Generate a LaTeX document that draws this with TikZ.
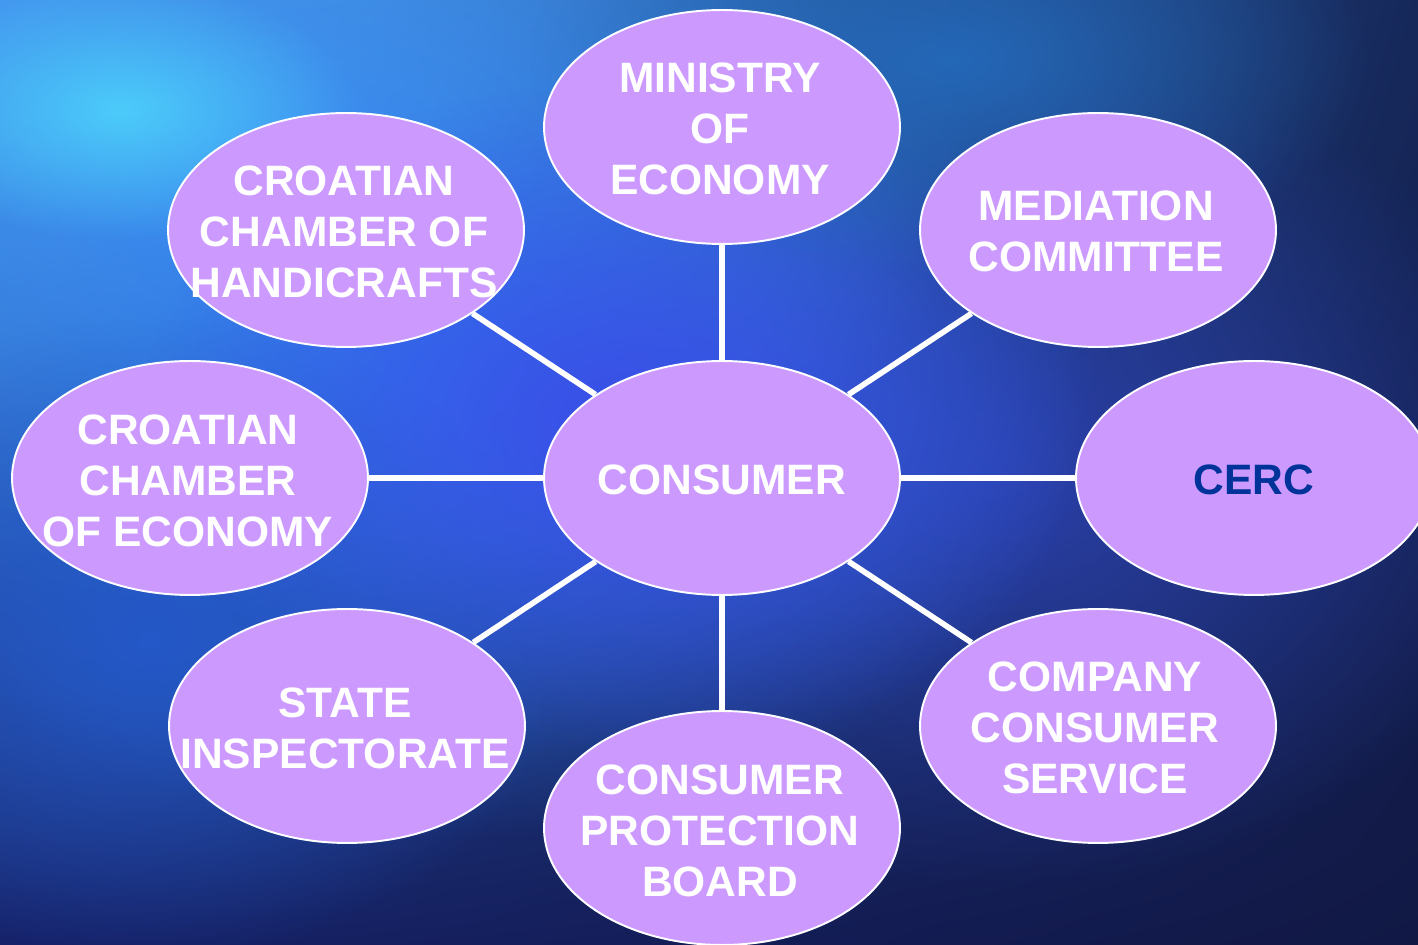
\documentclass[tikz,border=0pt]{standalone}
\usepackage{fontspec}
\setmainfont{Liberation Sans}
\usetikzlibrary{shapes.geometric,fadings,shadings}

\definecolor{bubblefill}{HTML}{CC99FF}
\definecolor{cercblue}{HTML}{003399}
\definecolor{skyUL}{HTML}{3F8FEA}
\definecolor{skyUR}{HTML}{16285A}
\definecolor{skyLL}{HTML}{16226A}
\definecolor{skyLR}{HTML}{111844}
\definecolor{glowcyan}{HTML}{4CCCFA}
\definecolor{glowlight}{HTML}{48A0F6}
\definecolor{glowblue}{HTML}{2F7AEE}
\definecolor{glowviolet}{HTML}{3A4EE8}
\definecolor{glowteal}{HTML}{2468B8}
\definecolor{glowlow}{HTML}{2458C8}
\definecolor{glowmid}{HTML}{2A3FA8}

\tikzfading[name=glow, inner color=transparent!0, outer color=transparent!100]

\tikzset{
  bubble/.style={ellipse, draw=white, line width=1.1pt, fill=bubblefill,
    minimum width=7.12cm, minimum height=4.68cm, inner sep=0pt},
  lbl/.style={text=white, font=\bfseries\fontsize{24.2}{29}\selectfont,
    align=center, inner sep=0pt},
  link/.style={draw=white, line width=3.2pt},
  haze/.style={path fading=glow}
}

\begin{document}
\begin{tikzpicture}[x=0.02cm, y=-0.02cm]
  \useasboundingbox (0,0) rectangle (1418,945);
  \clip (0,0) rectangle (1418,945);

  % backdrop: four-corner blend plus soft glows
  \shade[upper left=skyUL, upper right=skyUR, lower left=skyLL, lower right=skyLR]
    (0,0) rectangle (1418,945);
  \fill[glowmid, haze] (1000,470) ellipse (560 and 420);
  \fill[glowlight, haze] (250,150) ellipse (720 and 460);
  \fill[glowblue, haze] (450,380) ellipse (650 and 460);
  \fill[glowlow, haze] (150,640) ellipse (420 and 320);
  \fill[glowviolet, haze] (620,420) ellipse (480 and 340);
  \fill[glowteal, haze] (950,60) ellipse (420 and 220);
  \fill[glowcyan, haze] (120,110) ellipse (240 and 130);

  % the bubbles
  \node[bubble] (cons) at (722,478) {};
  \node[bubble] (mini) at (722,127) {};
  \node[bubble] (hand) at (346,230) {};
  \node[bubble] (medi) at (1098,230) {};
  \node[bubble] (econ) at (190,478) {};
  \node[bubble] (cerc) at (1254,478) {};
  \node[bubble] (insp) at (347,726) {};
  \node[bubble] (prot) at (722,828) {};
  \node[bubble] (comp) at (1098,726) {};

  % spokes from the consumer
  \foreach \n in {mini,hand,medi,econ,cerc,insp,prot,comp}
    \draw[link] (cons) -- (\n);

  % labels
  \node[lbl] at (722,480) {CONSUMER};
  \node[lbl] at (720,129) {MINISTRY\\OF\\ECONOMY};
  \node[lbl] at (344,232) {CROATIAN\\CHAMBER OF\\HANDICRAFTS};
  \node[lbl] at (1096,231) {MEDIATION\\COMMITTEE};
  \node[lbl] at (188,481) {CROATIAN\\CHAMBER\\OF ECONOMY};
  \node[lbl, text=cercblue] at (1254,480) {CERC};
  \node[lbl] at (345,728) {STATE\\INSPECTORATE};
  \node[lbl] at (720,831) {CONSUMER\\PROTECTION\\BOARD};
  \node[lbl] at (1095,728) {COMPANY\\CONSUMER\\SERVICE};
\end{tikzpicture}
\end{document}
